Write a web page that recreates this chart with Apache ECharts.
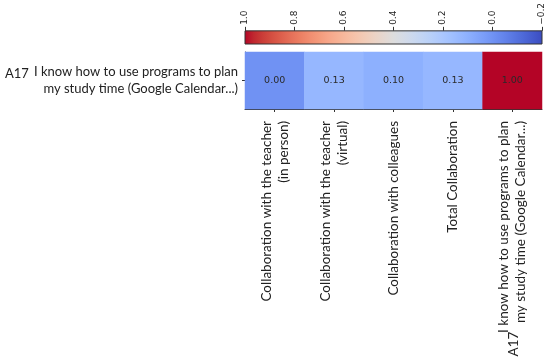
<!DOCTYPE html>
<html><head><meta charset="utf-8">
<script src="https://cdn.jsdelivr.net/npm/echarts@6/dist/echarts.min.js"></script>
<style>html,body{margin:0;padding:0;background:#fff}#c{width:550px;height:360px}</style>
</head><body><div id="c"></div>
<script>
const xCategories = [
  'Collaboration with the teacher\n(in person)',
  'Collaboration with the teacher\n(virtual)',
  'Collaboration with colleagues',
  'Total Collaboration',
  'I know how to use programs to plan\nmy study time (Google Calendar...)'
];
const yCategories = ['I know how to use programs to plan\nmy study time (Google Calendar...)'];
const itemCode = 'A17';
const values = [0.00, 0.13, 0.10, 0.13, 1.00];
const scaleMin = -0.2, scaleMax = 1.0, scaleStep = 0.2;
// matplotlib coolwarm, 33 evenly spaced stops (low -> high)
const coolwarm = [
 [59,76,192],[68,90,204],[77,104,215],[87,117,225],[98,130,234],[108,142,241],[119,154,247],[130,165,251],
 [141,176,254],[152,185,255],[163,194,255],[174,201,253],[184,208,249],[194,213,244],[204,217,238],[213,219,230],
 [221,221,221],[229,216,209],[236,211,197],[241,204,184],[245,196,172],[247,187,160],[247,177,148],[247,166,137],
 [244,154,123],[241,141,112],[236,127,99],[229,112,89],[222,96,77],[213,80,66],[203,62,56],[192,40,47],[180,4,38]
].map(c => 'rgb(' + c.join(',') + ')');

const FONT = 'Lato';
const heatData = values.map((v, i) => [i, 0, v]);

const chart = echarts.init(document.getElementById('c'), null, {renderer: 'canvas'});
chart.setOption({
  animation: false,
  backgroundColor: '#fff',
  grid: [
    {left: 245, right: 8, top: 52, height: 57},
    {left: 245, right: 8, top: 28, height: 16}
  ],
  xAxis: [
    {type: 'category', gridIndex: 0, data: xCategories, position: 'bottom',
     axisLine: {show: true, lineStyle: {color: '#333', width: 1}},
     axisTick: {show: true, alignWithLabel: true, length: 3, lineStyle: {color: '#333'}},
     axisLabel: {rotate: 90, margin: 12, fontFamily: FONT, fontSize: 13.5, color: '#222', interval: 0, lineHeight: 17},
     splitLine: {show: false}},
    {type: 'value', gridIndex: 1, min: scaleMin, max: scaleMax, interval: scaleStep, inverse: true, position: 'top',
     axisLine: {show: false},
     axisTick: {show: true, length: 4, lineStyle: {color: '#333'}},
     axisLabel: {rotate: -90, margin: 6, fontFamily: 'DejaVu Sans', fontSize: 9, color: '#222',
       formatter: v => (Math.abs(v) < 1e-9 ? 0 : v).toFixed(1).replace('-', '\u2212')},
     splitLine: {show: false}}
  ],
  yAxis: [
    {type: 'category', gridIndex: 0, data: yCategories,
     axisLine: {show: true, lineStyle: {color: '#333', width: 1}},
     axisTick: {show: true, alignWithLabel: true, length: 3, lineStyle: {color: '#333'}},
     axisLabel: {margin: 7, fontFamily: FONT, fontSize: 13, color: '#222', lineHeight: 17}},
    {type: 'category', gridIndex: 1, data: ['cb'], show: false}
  ],
  visualMap: {
    type: 'continuous', show: false, min: scaleMin, max: scaleMax, seriesIndex: 0, dimension: 2,
    inRange: {color: coolwarm}
  },
  series: [
    {type: 'heatmap', xAxisIndex: 0, yAxisIndex: 0, data: heatData,
     label: {show: true, color: '#2a2a2a', fontFamily: 'DejaVu Sans', fontSize: 9.5,
       formatter: p => p.value[2].toFixed(2)},
     itemStyle: {borderWidth: 0}},
    {type: 'custom', xAxisIndex: 1, yAxisIndex: 1, data: [[scaleMin, 0]], silent: true,
     renderItem: function (params, api) {
       const a = api.coord([scaleMax, 0]);
       const b = api.coord([scaleMin, 0]);
       const h = api.size([0, 1])[1];
       const x0 = Math.min(a[0], b[0]), w = Math.abs(b[0] - a[0]);
       const stops = coolwarm.slice().reverse().map((c, i, arr) => ({offset: i / (arr.length - 1), color: c}));
       return {type: 'rect', shape: {x: x0, y: a[1] - h / 2, width: w, height: h},
         style: {fill: new echarts.graphic.LinearGradient(0, 0, 1, 0, stops), stroke: '#333', lineWidth: 1}};
     }}
  ],
  graphic: [
    {type: 'text', left: 5, top: 67, style: {text: itemCode, font: '13px ' + FONT, fill: '#222'}},
    {type: 'text', x: 514, y: 344, rotation: Math.PI / 2,
     style: {text: itemCode, font: '13.5px ' + FONT, fill: '#222', textAlign: 'center', textVerticalAlign: 'middle'}}
  ]
});
</script>
</body></html>
